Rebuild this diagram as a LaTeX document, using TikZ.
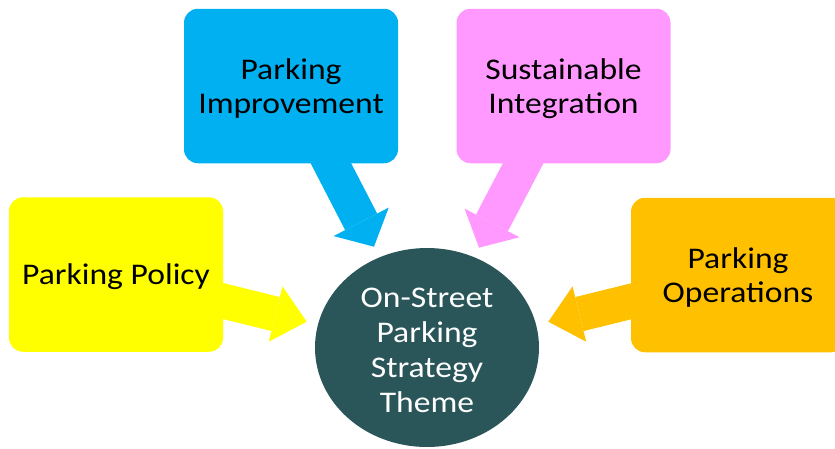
\documentclass[tikz,border=0pt]{standalone}
\usepackage{fontspec}
\setmainfont{Carlito}[FakeStretch=1.12]
\usetikzlibrary{arrows.meta,shapes.geometric,backgrounds}
\definecolor{cyellow}{HTML}{FFFF00}
\definecolor{cblue}{HTML}{00B0F0}
\definecolor{cpink}{HTML}{FF99FF}
\definecolor{corange}{HTML}{FFC000}
\definecolor{cteal}{HTML}{2A565A}
\begin{document}
\begin{tikzpicture}[x=1pt,y=-1pt,
  box/.style={rounded corners=14pt, minimum width=214pt, minimum height=154.5pt, inner sep=0pt},
  boxtext/.style={inner sep=0pt, align=center, font=\fontsize{30}{34}\selectfont, text=black},
  circtext/.style={inner sep=0pt, align=center, font=\fontsize{30}{35}\selectfont, text=white},
  sidearrow/.style={line width=35pt, -{Triangle[length=32pt,width=57pt,line width=0pt]}},
  toparrow/.style={line width=36pt, -{Triangle[length=28pt,width=62pt,line width=0pt]}}]
\useasboundingbox (0,0) rectangle (835,448);
\clip (0,0) rectangle (835,448);

\coordinate (tipY) at (306.7,321.7);
\coordinate (tipB) at (374,246.7);
\coordinate (tipP) at (479,247.7);
\coordinate (tipO) at (548.3,321.7);

\node[box, fill=cyellow] (policy) at (116,274.5) {};
\node[box, fill=cblue] (improve) at (291,86) {};
\node[box, fill=cpink] (integr) at (563.5,86) {};
\node[box, fill=corange] (oper) at (738,275) {};
\node[ellipse, fill=cteal, minimum width=224pt, minimum height=199pt, inner sep=0pt] (theme) at (427,347.5) {};

\node[boxtext] (policyT) at ([yshift=-2.5pt]policy.center) {Parking Policy};
\node[boxtext] (improveT) at ([yshift=-2.5pt]improve.center) {Parking\\Improvement};
\node[boxtext] (integrT) at ([yshift=-2.5pt]integr.center) {Sustainable\\Integration};
\node[boxtext] (operT) at ([yshift=-2.5pt]oper.center) {Parking\\Operations};
\node[circtext] (themeT) at ([yshift=-2.5pt]theme.center) {On-Street\\Parking\\Strategy\\Theme};

\begin{scope}[on background layer]
\draw[sidearrow, cyellow] (policy.center) -- (tipY);
\draw[toparrow, cblue] (improve.center) -- (tipB);
\draw[toparrow, cpink] (integr.center) -- (tipP);
\draw[sidearrow, corange] (oper.center) -- (tipO);
\end{scope}
\end{tikzpicture}
\end{document}
